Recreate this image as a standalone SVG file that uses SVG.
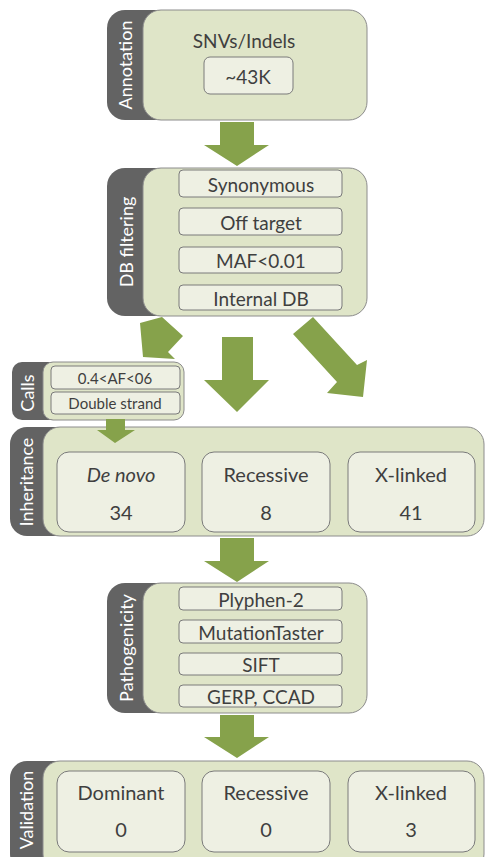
<svg xmlns="http://www.w3.org/2000/svg" width="485" height="857" viewBox="0 0 485 857">
<style>
.tab{fill:#636363}
.panel{fill:#dfe5c8;stroke:#8c8c8c;stroke-width:1}
.item{fill:#eef0e3;stroke:#7a7a7a;stroke-width:1}
.arrow{fill:#86a24b}
.lbl{font-family:Lato,"Liberation Sans",sans-serif;fill:#ffffff;font-size:18px;text-anchor:middle}
.t{font-family:Lato,"Liberation Sans",sans-serif;fill:#3f3f3f;font-size:19px;text-anchor:middle}
.tl{font-family:Lato,"Liberation Sans",sans-serif;fill:#3f3f3f;font-size:20px;text-anchor:middle}
.ts{font-family:Lato,"Liberation Sans",sans-serif;fill:#3f3f3f;font-size:15px;text-anchor:middle}
</style>
<g id="annotation">
<rect class="tab" x="107" y="10" width="70" height="110" rx="18"/>
<rect class="panel" x="143" y="10" width="224" height="110" rx="18"/>
<text class="lbl" transform="translate(132,65) rotate(-90)">Annotation</text>
<text class="t" x="244" y="48">SNVs/Indels</text>
<rect class="item" x="204" y="57" width="89" height="37" rx="6"/>
<text class="t" x="248" y="84">~43K</text>
</g>
<g id="db-filtering">
<rect class="tab" x="107" y="168" width="70" height="148" rx="18"/>
<rect class="panel" x="143" y="168" width="224" height="148" rx="18"/>
<text class="lbl" transform="translate(133,242) rotate(-90)">DB filtering</text>
<rect class="item" x="179" y="170" width="163" height="27" rx="4"/>
<text class="t" x="261" y="192">Synonymous</text>
<rect class="item" x="179" y="208" width="163" height="27" rx="4"/>
<text class="t" x="261" y="230">Off target</text>
<rect class="item" x="179" y="247" width="163" height="26" rx="4"/>
<text class="t" x="261" y="268">MAF&lt;0.01</text>
<rect class="item" x="179" y="285" width="163" height="25" rx="4"/>
<text class="t" x="261" y="306">Internal DB</text>
</g>
<g id="calls">
<rect class="tab" x="12" y="362" width="60" height="58" rx="10"/>
<rect class="panel" x="43" y="362" width="141" height="58" rx="10"/>
<text class="lbl" transform="translate(34,393) rotate(-90)">Calls</text>
<rect class="item" x="51" y="366" width="129" height="23" rx="4"/>
<text class="ts" x="115" y="384">0.4&lt;AF&lt;06</text>
<rect class="item" x="51" y="392" width="129" height="22" rx="4"/>
<text class="ts" x="115" y="409">Double strand</text>
</g>
<g id="inheritance">
<rect class="tab" x="10" y="427" width="70" height="109" rx="17"/>
<rect class="panel" x="43" y="427" width="441" height="109" rx="17"/>
<text class="lbl" transform="translate(33,482) rotate(-90)">Inheritance</text>
<rect class="item" x="57" y="452" width="128" height="80" rx="12"/>
<text class="tl" x="121" y="482" font-style="italic">De novo</text>
<text class="tl" x="121" y="520">34</text>
<rect class="item" x="202" y="452" width="128" height="80" rx="12"/>
<text class="tl" x="266" y="482">Recessive</text>
<text class="tl" x="266" y="520">8</text>
<rect class="item" x="348" y="452" width="127" height="80" rx="12"/>
<text class="tl" x="411" y="482">X-linked</text>
<text class="tl" x="411" y="520">41</text>
</g>
<g id="pathogenicity">
<rect class="tab" x="107" y="583" width="70" height="130" rx="18"/>
<rect class="panel" x="143" y="583" width="224" height="130" rx="18"/>
<text class="lbl" transform="translate(133,648) rotate(-90)">Pathogenicity</text>
<rect class="item" x="179" y="587" width="163" height="23" rx="4"/>
<text class="t" x="261" y="607">Plyphen-2</text>
<rect class="item" x="179" y="620" width="163" height="23" rx="4"/>
<text class="t" x="261" y="640">MutationTaster</text>
<rect class="item" x="179" y="653" width="163" height="22" rx="4"/>
<text class="t" x="261" y="672">SIFT</text>
<rect class="item" x="179" y="685" width="163" height="22" rx="4"/>
<text class="t" x="261" y="704">GERP, CCAD</text>
</g>
<g id="validation">
<rect class="tab" x="10" y="761" width="70" height="110" rx="17"/>
<rect class="panel" x="43" y="761" width="441" height="110" rx="17"/>
<text class="lbl" transform="translate(33,810) rotate(-90)">Validation</text>
<rect class="item" x="57" y="771" width="128" height="81" rx="12"/>
<text class="tl" x="121" y="800">Dominant</text>
<text class="tl" x="121" y="837">0</text>
<rect class="item" x="202" y="771" width="128" height="81" rx="12"/>
<text class="tl" x="266" y="800">Recessive</text>
<text class="tl" x="266" y="837">0</text>
<rect class="item" x="348" y="771" width="127" height="81" rx="12"/>
<text class="tl" x="411" y="800">X-linked</text>
<text class="tl" x="411" y="837">3</text>
</g>
<g id="connectors">
<polygon class="arrow" points="220,122 254,122 254,145 269,145 237,166 204,145 220,145"/>
<polygon class="arrow" points="140,323 162,317 183,336 168,352 175,359 143,357"/>
<polygon class="arrow" points="222,337 253,337 253,380 269,380 237,412 204,380 222,380"/>
<polygon class="arrow" points="313,317 357,365 367,360 363,397 327,393 337,382 293,334"/>
<polygon class="arrow" points="106,419 125,419 125,430 135,430 115,443 97,430 106,430"/>
<polygon class="arrow" points="220,538 254,538 254,561 269,561 237,582 204,561 220,561"/>
<polygon class="arrow" points="220,715 254,715 254,737 269,737 237,758 204,737 220,737"/>
</g>
</svg>
